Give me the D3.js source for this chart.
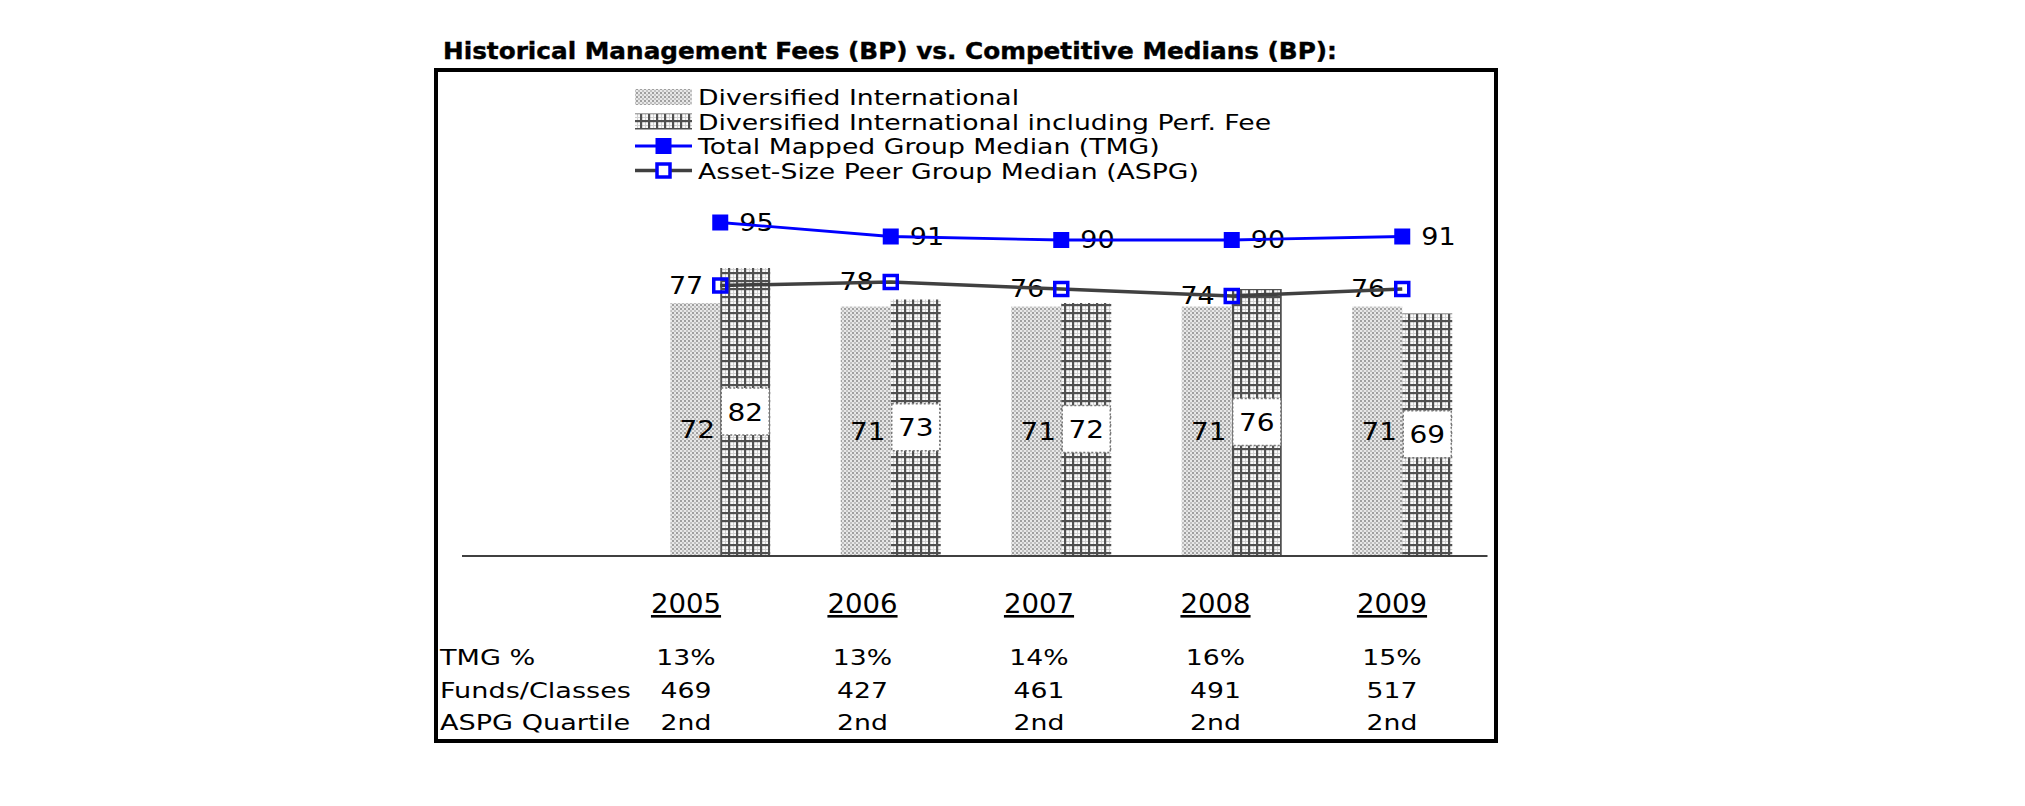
<!DOCTYPE html>
<html>
<head>
<meta charset="utf-8">
<script src="https://cdn.jsdelivr.net/npm/d3@7"></script>
<style>
  html, body { margin: 0; padding: 0; background: #fff; }
  svg { display: block; }
  text { font-family: "DejaVu Sans", Verdana, sans-serif; fill: #000; }
</style>
</head>
<body>
<svg id="chart" width="2025" height="806"></svg>
<script>
// ---------------- data ----------------
const years = ["2005", "2006", "2007", "2008", "2009"];
const diversified = [72, 71, 71, 71, 71];
const diversifiedPerf = [82, 73, 72, 76, 69];
const tmgMedian = [95, 91, 90, 90, 91];
const aspgMedian = [77, 78, 76, 74, 76];
const tmgPct = ["13%", "13%", "14%", "16%", "15%"];
const fundsClasses = ["469", "427", "461", "491", "517"];
const aspgQuartile = ["2nd", "2nd", "2nd", "2nd", "2nd"];
const rowLabels = ["TMG %", "Funds/Classes", "ASPG Quartile"];
const legendLabels = [
  "Diversified International",
  "Diversified International including Perf. Fee",
  "Total Mapped Group Median (TMG)",
  "Asset-Size Peer Group Median (ASPG)"
];
const titleText = "Historical Management Fees (BP) vs. Competitive Medians (BP):";

// ---------------- setup ----------------
const svg = d3.select("#chart");
const BLUE = "#0000ff";
const GRAY = "#404040";

function stretch(sel, k) {
  sel.each(function () {
    const w = this.getComputedTextLength();
    this.setAttribute("textLength", w * k);
    this.setAttribute("lengthAdjust", "spacingAndGlyphs");
  });
}

// patterns
const defs = svg.append("defs");
const dots = defs.append("pattern").attr("id", "dots")
  .attr("patternUnits", "userSpaceOnUse").attr("width", 4).attr("height", 4);
dots.append("rect").attr("width", 4).attr("height", 4).attr("fill", "#e8e8e8");
dots.append("rect").attr("x", 0).attr("y", 0).attr("width", 2).attr("height", 2).attr("fill", "#a0a0a0");
dots.append("rect").attr("x", 2).attr("y", 2).attr("width", 2).attr("height", 2).attr("fill", "#c0c0c0");

const grid = defs.append("pattern").attr("id", "grid")
  .attr("patternUnits", "userSpaceOnUse").attr("width", 8).attr("height", 8);
grid.append("rect").attr("width", 8).attr("height", 8).attr("fill", "#fafafa");
grid.append("rect").attr("x", 5).attr("y", 0).attr("width", 1).attr("height", 8).attr("fill", "#d0d0d0");
grid.append("rect").attr("x", 0).attr("y", 5).attr("width", 8).attr("height", 1).attr("fill", "#d0d0d0");
grid.append("rect").attr("x", 0).attr("y", 0).attr("width", 2.2).attr("height", 8).attr("fill", "#505050");
grid.append("rect").attr("x", 0).attr("y", 0).attr("width", 8).attr("height", 2.2).attr("fill", "#505050");

// ---------------- title & frame ----------------
const title = svg.append("text")
  .attr("x", 443).attr("y", 59)
  .attr("font-size", 23.5).attr("font-weight", "bold")
  .attr("stroke", "#000").attr("stroke-width", 0.4)
  .text(titleText);
title.attr("textLength", 894).attr("lengthAdjust", "spacingAndGlyphs");

svg.append("rect")
  .attr("x", 436).attr("y", 70).attr("width", 1060).attr("height", 671)
  .attr("fill", "none").attr("stroke", "#000").attr("stroke-width", 4);

// ---------------- scales ----------------
const x = d3.scaleBand().domain(years).range([635, 1487.5]).padding(0);
const cx = d => x(d) + x.bandwidth() / 2;
const xSub = d3.scaleBand().domain(["div", "perf"]).range([-50, 50]).padding(0);
const y = d3.scaleLinear().domain([0, 100]).range([555, 205]);
const tableX = d3.scalePoint().domain(years).range([686, 1392]);

// ---------------- bars ----------------
const barData = years.map((yr, i) => ({ yr, div: diversified[i], perf: diversifiedPerf[i] }));

const gBars = svg.append("g");
gBars.selectAll("rect.div").data(barData).join("rect").attr("class", "div")
  .attr("x", d => cx(d.yr) + xSub("div"))
  .attr("width", xSub.bandwidth())
  .attr("y", d => y(d.div))
  .attr("height", d => y(0) - y(d.div))
  .attr("fill", "url(#dots)");
gBars.selectAll("rect.perf").data(barData).join("rect").attr("class", "perf")
  .attr("x", d => cx(d.yr) + xSub("perf"))
  .attr("width", xSub.bandwidth())
  .attr("y", d => y(d.perf))
  .attr("height", d => y(0) - y(d.perf))
  .attr("fill", "url(#grid)");

// axis baseline
svg.append("line")
  .attr("x1", 462).attr("x2", x.range()[1])
  .attr("y1", y(0) + 1).attr("y2", y(0) + 1)
  .attr("stroke", "#000").attr("stroke-width", 1.5);

// bar value labels
const divLabels = gBars.selectAll("text.divl").data(barData).join("text").attr("class", "divl")
  .attr("x", d => cx(d.yr) + xSub("div") + xSub.bandwidth() / 2 + 2)
  .attr("y", d => y(d.div / 2) + 9)
  .attr("text-anchor", "middle").attr("font-size", 25)
  .text(d => d.div);
stretch(divLabels, 1.12);

gBars.selectAll("rect.perfbox").data(barData).join("rect").attr("class", "perfbox")
  .attr("x", d => cx(d.yr) + xSub("perf") + 1)
  .attr("width", xSub.bandwidth() - 2)
  .attr("y", d => y(d.perf / 2) - 23.5)
  .attr("height", 47)
  .attr("fill", "#fff").attr("stroke", "#777").attr("stroke-width", 1.5)
  .attr("stroke-dasharray", "2,2");
const perfLabels = gBars.selectAll("text.perfl").data(barData).join("text").attr("class", "perfl")
  .attr("x", d => cx(d.yr) + xSub("perf") + xSub.bandwidth() / 2)
  .attr("y", d => y(d.perf / 2) + 9)
  .attr("text-anchor", "middle").attr("font-size", 25)
  .text(d => d.perf);
stretch(perfLabels, 1.12);

// ---------------- lines ----------------
const tmgData = years.map((yr, i) => ({ yr, v: tmgMedian[i] }));
const aspgData = years.map((yr, i) => ({ yr, v: aspgMedian[i] }));
const lineGen = d3.line().x(d => cx(d.yr)).y(d => y(d.v));

// line labels (under the lines, as in the reference)
const tmgLabels = svg.append("g").selectAll("text").data(tmgData).join("text")
  .attr("x", d => cx(d.yr) + 19).attr("y", d => y(d.v) + 8)
  .attr("font-size", 25).text(d => d.v);
stretch(tmgLabels, 1.08);
const aspgLabels = svg.append("g").selectAll("text").data(aspgData).join("text")
  .attr("x", d => cx(d.yr) - 17).attr("y", d => y(d.v) + 8)
  .attr("text-anchor", "end")
  .attr("font-size", 25).text(d => d.v);
stretch(aspgLabels, 1.08);

svg.append("path").datum(aspgData).attr("d", lineGen)
  .attr("fill", "none").attr("stroke", GRAY).attr("stroke-width", 3.5);
svg.append("path").datum(tmgData).attr("d", lineGen)
  .attr("fill", "none").attr("stroke", BLUE).attr("stroke-width", 2.8);

svg.append("g").selectAll("rect").data(tmgData).join("rect")
  .attr("x", d => cx(d.yr) - 8).attr("y", d => y(d.v) - 8)
  .attr("width", 16).attr("height", 16).attr("fill", BLUE);
svg.append("g").selectAll("rect").data(aspgData).join("rect")
  .attr("x", d => cx(d.yr) - 6.5).attr("y", d => y(d.v) - 6.5)
  .attr("width", 13).attr("height", 13)
  .attr("fill", "none").attr("stroke", BLUE).attr("stroke-width", 3.5);

// ---------------- legend ----------------
const legX0 = 635, legX1 = 692, legTextX = 698;
const legRowY = d3.scalePoint().domain(d3.range(4)).range([97, 170.5]);
const gLeg = svg.append("g");
gLeg.append("rect").attr("x", legX0).attr("y", legRowY(0) - 8).attr("width", legX1 - legX0).attr("height", 16)
  .attr("fill", "url(#dots)");
gLeg.append("rect").attr("x", legX0).attr("y", legRowY(1) - 8).attr("width", legX1 - legX0).attr("height", 16)
  .attr("fill", "url(#grid)");
gLeg.append("line").attr("x1", legX0).attr("x2", legX1).attr("y1", legRowY(2)).attr("y2", legRowY(2))
  .attr("stroke", BLUE).attr("stroke-width", 2.8);
gLeg.append("rect").attr("x", (legX0 + legX1) / 2 - 8).attr("y", legRowY(2) - 8)
  .attr("width", 16).attr("height", 16).attr("fill", BLUE);
gLeg.append("line").attr("x1", legX0).attr("x2", legX1).attr("y1", legRowY(3)).attr("y2", legRowY(3))
  .attr("stroke", GRAY).attr("stroke-width", 3.5);
gLeg.append("rect").attr("x", (legX0 + legX1) / 2 - 6.5).attr("y", legRowY(3) - 6.5)
  .attr("width", 13).attr("height", 13)
  .attr("fill", "#fff").attr("stroke", BLUE).attr("stroke-width", 3.5);
const legTexts = gLeg.selectAll("text").data(legendLabels).join("text")
  .attr("x", legTextX).attr("y", (d, i) => legRowY(i) + 8)
  .attr("font-size", 21.5).text(d => d);
stretch(legTexts, 1.24);

// ---------------- table ----------------
const yearTexts = svg.append("g").selectAll("text").data(years).join("text")
  .attr("x", d => tableX(d)).attr("y", 613)
  .attr("text-anchor", "middle").attr("font-size", 26)
  .attr("text-decoration", "underline")
  .text(d => d);
stretch(yearTexts, 1.06);

const rowY = d3.scalePoint().domain(d3.range(3)).range([665, 730]);
const rowTexts = svg.append("g").selectAll("text").data(rowLabels).join("text")
  .attr("x", 440).attr("y", (d, i) => rowY(i))
  .attr("font-size", 21.5).text(d => d);
stretch(rowTexts, 1.26);

const rows = [tmgPct, fundsClasses, aspgQuartile];
rows.forEach((vals, ri) => {
  const t = svg.append("g").selectAll("text").data(vals).join("text")
    .attr("x", (d, i) => tableX(years[i])).attr("y", rowY(ri))
    .attr("text-anchor", "middle").attr("font-size", 21.5).text(d => d);
  stretch(t, 1.24);
});
</script>
</body>
</html>
